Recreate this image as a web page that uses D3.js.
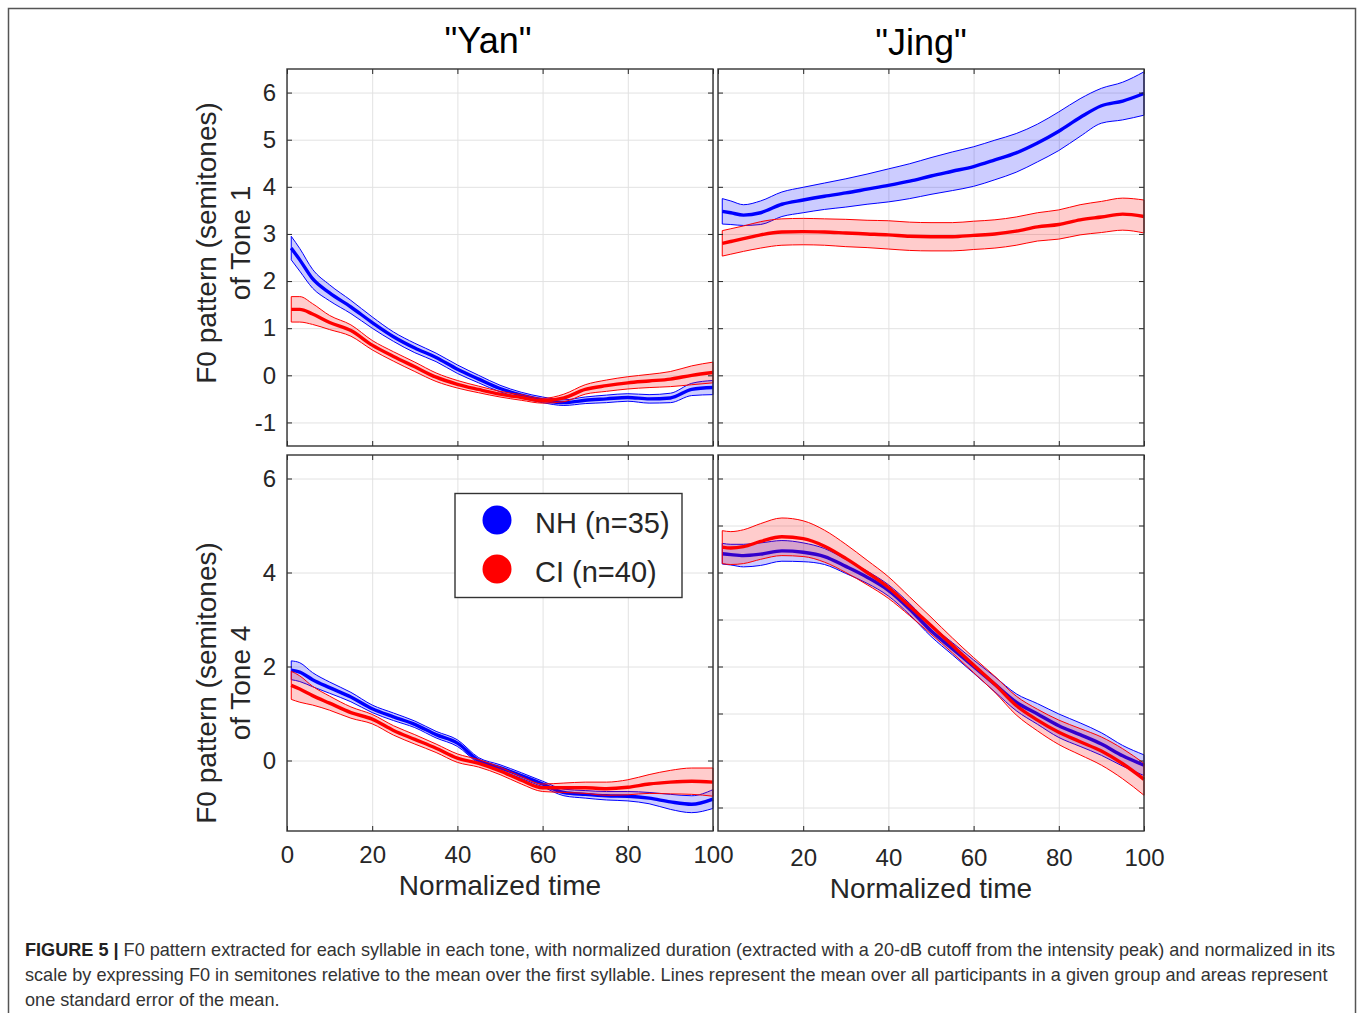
<!DOCTYPE html>
<html>
<head>
<meta charset="utf-8">
<title>Figure 5 - F0 pattern</title>
<script src="https://cdnjs.cloudflare.com/ajax/libs/d3/7.8.5/d3.min.js"></script>
<style>
    body { margin: 0; background: #fff; }
    svg text { font-family: "Liberation Sans", Arial, Helvetica, sans-serif; }
</style>
</head>
<body>
<svg id="figure" width="1357" height="1013"></svg>
<script>
// normalized time samples (same for every curve)
const time = [1, 3, 6, 10, 15, 20, 25, 30, 35, 40, 45, 50, 55, 60, 65, 70, 75, 80, 85, 90, 95, 100];

// "Yan", tone 1
const yanT1NH   = [2.7, 2.45, 2.05, 1.75, 1.45, 1.12, 0.82, 0.58, 0.38, 0.13, -0.08, -0.28, -0.42, -0.52, -0.58, -0.53, -0.5, -0.47, -0.5, -0.48, -0.3, -0.26];
const yanT1NHse = [0.25, 0.24, 0.2, 0.17, 0.14, 0.12, 0.1, 0.1, 0.09, 0.09, 0.08, 0.07, 0.06, 0.06, 0.06, 0.07, 0.08, 0.08, 0.09, 0.1, 0.13, 0.15];
const yanT1CI   = [1.4, 1.4, 1.3, 1.12, 0.95, 0.64, 0.4, 0.18, -0.04, -0.19, -0.3, -0.4, -0.47, -0.54, -0.48, -0.3, -0.22, -0.16, -0.12, -0.08, 0.0, 0.06];
const yanT1CIse = [0.27, 0.27, 0.22, 0.15, 0.12, 0.1, 0.1, 0.1, 0.09, 0.08, 0.07, 0.06, 0.06, 0.05, 0.08, 0.1, 0.12, 0.13, 0.14, 0.16, 0.2, 0.22];

// "Jing", tone 1
const jingT1NH   = [3.48, 3.45, 3.4, 3.45, 3.63, 3.72, 3.8, 3.87, 3.95, 4.03, 4.12, 4.23, 4.33, 4.43, 4.57, 4.72, 4.93, 5.18, 5.47, 5.72, 5.82, 5.98];
const jingT1NHse = [0.27, 0.25, 0.22, 0.25, 0.26, 0.27, 0.28, 0.3, 0.32, 0.35, 0.37, 0.39, 0.41, 0.42, 0.42, 0.41, 0.4, 0.41, 0.4, 0.37, 0.4, 0.46];
const jingT1CI   = [2.8, 2.84, 2.9, 2.98, 3.04, 3.05, 3.04, 3.02, 3.0, 2.98, 2.95, 2.94, 2.94, 2.97, 3.0, 3.06, 3.15, 3.2, 3.3, 3.36, 3.42, 3.37];
const jingT1CIse = [0.27, 0.27, 0.27, 0.28, 0.28, 0.28, 0.28, 0.29, 0.29, 0.3, 0.3, 0.3, 0.3, 0.3, 0.3, 0.3, 0.3, 0.31, 0.32, 0.33, 0.34, 0.35];

// "Yan", tone 4
const yanT4NH   = [1.92, 1.88, 1.72, 1.55, 1.35, 1.1, 0.93, 0.77, 0.55, 0.37, 0.0, -0.15, -0.32, -0.5, -0.68, -0.72, -0.75, -0.76, -0.8, -0.88, -0.93, -0.82];
const yanT4NHse = [0.2, 0.2, 0.15, 0.12, 0.1, 0.08, 0.08, 0.07, 0.07, 0.07, 0.06, 0.06, 0.06, 0.06, 0.07, 0.08, 0.09, 0.1, 0.12, 0.16, 0.18, 0.2];
const yanT4CI   = [1.6, 1.52, 1.38, 1.22, 1.02, 0.88, 0.64, 0.45, 0.26, 0.05, -0.06, -0.22, -0.42, -0.58, -0.58, -0.58, -0.6, -0.57, -0.5, -0.46, -0.44, -0.46];
const yanT4CIse = [0.3, 0.28, 0.2, 0.15, 0.12, 0.1, 0.1, 0.1, 0.09, 0.09, 0.08, 0.08, 0.08, 0.08, 0.1, 0.12, 0.14, 0.16, 0.2, 0.25, 0.28, 0.3];

// "Jing", tone 4
const jingT4NH   = [4.4, 4.38, 4.36, 4.39, 4.46, 4.43, 4.34, 4.13, 3.9, 3.62, 3.22, 2.76, 2.38, 2.0, 1.62, 1.24, 0.99, 0.74, 0.55, 0.35, 0.1, -0.1];
const jingT4NHse = [0.22, 0.22, 0.24, 0.24, 0.22, 0.2, 0.17, 0.15, 0.13, 0.12, 0.12, 0.12, 0.13, 0.14, 0.16, 0.18, 0.22, 0.25, 0.25, 0.24, 0.22, 0.22];
const jingT4CI   = [4.54, 4.52, 4.55, 4.66, 4.76, 4.72, 4.56, 4.3, 4.0, 3.68, 3.28, 2.87, 2.45, 2.03, 1.62, 1.17, 0.86, 0.6, 0.4, 0.2, -0.07, -0.4];
const jingT4CIse = [0.35, 0.35, 0.36, 0.38, 0.4, 0.38, 0.34, 0.3, 0.26, 0.23, 0.2, 0.18, 0.16, 0.16, 0.17, 0.2, 0.23, 0.26, 0.28, 0.3, 0.32, 0.34];

// axes
const xTicks = [0, 20, 40, 60, 80, 100];
const yTicksAll = [-1, 0, 1, 2, 3, 4, 5, 6];
const yTicksEven = [0, 2, 4, 6];
const yDomain = [-1.5, 6.5];

const groups = ["NH (n=35)", "CI (n=40)"];
const groupColors = ["#0000ff", "#ff0000"];
const syllables = ["\"Yan\"", "\"Jing\""];

const captionLines = [
    " F0 pattern extracted for each syllable in each tone, with normalized duration (extracted with a 20-dB cutoff from the intensity peak) and normalized in its",
    "scale by expressing F0 in semitones relative to the mean over the first syllable. Lines represent the mean over all participants in a given group and areas represent",
    "one standard error of the mean."
];

const svg = d3.select("#figure");
const axisColor = "#262626";
const gridColor = "#e2e2e2";

// outer figure frame
svg.append("rect")
    .attr("x", 8.5).attr("y", 8.5)
    .attr("width", 1347).attr("height", 1030)
    .attr("fill", "none")
    .attr("stroke", "#555")
    .attr("stroke-width", 1.5);

const toRows = (mean, se) => time.map((t, i) => ({ t: t, m: mean[i], s: se[i] }));
const plainNum = (d) => String(d);   // keep "-1" with a hyphen like the original

const drawPanel = (p) => {
    let x = d3.scaleLinear().domain([0, 100]).range([p.left, p.left + p.w]);
    let y = d3.scaleLinear().domain(yDomain).range([p.top + p.h, p.top]);
    let g = svg.append("g");

    // grid
    g.append("g")
        .attr("class", "grid")
        .attr("transform", "translate(" + p.left + ",0)")
        .call(d3.axisLeft(y).tickValues(p.yTicks).tickSize(-p.w).tickFormat(""));
    g.append("g")
        .attr("class", "grid")
        .attr("transform", "translate(0," + (p.top + p.h) + ")")
        .call(d3.axisBottom(x).tickValues(xTicks).tickSize(-p.h).tickFormat(""));
    g.selectAll(".grid .domain").remove();
    g.selectAll(".grid line").attr("stroke", gridColor);

    // curves: band (with thin edges) then mean line
    p.series.forEach((s) => {
        let rows = toRows(s.mean, s.se);
        let area = d3.area()
            .x(d => x(d.t))
            .y0(d => y(d.m - d.s))
            .y1(d => y(d.m + d.s))
            .curve(d3.curveMonotoneX);
        let meanLine = d3.line()
            .x(d => x(d.t))
            .y(d => y(d.m))
            .curve(d3.curveMonotoneX);

        g.append("path").datum(rows)
            .attr("d", area)
            .attr("fill", s.color)
            .attr("fill-opacity", 0.2)
            .attr("stroke", s.color)
            .attr("stroke-width", 1);
        g.append("path").datum(rows)
            .attr("d", meanLine)
            .attr("fill", "none")
            .attr("stroke", s.color)
            .attr("stroke-width", 3.4)
            .attr("stroke-linejoin", "round");
    });

    // inner ticks on all four sides
    let left = g.append("g")
        .attr("class", "ticks")
        .attr("transform", "translate(" + p.left + ",0)")
        .call(d3.axisLeft(y).tickValues(p.yTicks).tickSize(-5).tickPadding(11)
            .tickFormat(p.yLabels ? plainNum : ""));
    g.append("g")
        .attr("class", "ticks")
        .attr("transform", "translate(" + (p.left + p.w) + ",0)")
        .call(d3.axisRight(y).tickValues(p.yTicks).tickSize(-5).tickFormat(""));
    g.append("g")
        .attr("class", "ticks")
        .attr("transform", "translate(0," + p.top + ")")
        .call(d3.axisTop(x).tickValues(xTicks).tickSize(-5).tickFormat(""));
    let bottom = g.append("g")
        .attr("class", "ticks")
        .attr("transform", "translate(0," + (p.top + p.h) + ")")
        .call(d3.axisBottom(x).tickValues(p.xLabelTicks || xTicks).tickSize(-5).tickPadding(p.xPad || 15)
            .tickFormat(p.xLabelTicks ? plainNum : ""));

    g.selectAll(".ticks .domain").remove();
    g.selectAll(".ticks line").attr("stroke", axisColor);
    [left, bottom].forEach((a) => {
        a.selectAll("text")
            .style("font-size", "24px")
            .attr("fill", axisColor);
    });

    // axes box
    g.append("rect")
        .attr("x", p.left).attr("y", p.top)
        .attr("width", p.w).attr("height", p.h)
        .attr("fill", "none")
        .attr("stroke", "#333")
        .attr("stroke-width", 1.4);

    if (p.xTitleY) {
        g.append("text")
            .attr("x", p.left + p.w / 2)
            .attr("y", p.xTitleY)
            .attr("text-anchor", "middle")
            .style("font-size", "28px")
            .attr("fill", axisColor)
            .text("Normalized time");
    }
    if (p.yTitle) {
        let t = g.append("text")
            .attr("transform", "translate(0," + p.yTitleCenter + ") rotate(-90)")
            .attr("text-anchor", "middle")
            .style("font-size", "28px")
            .attr("fill", axisColor);
        t.append("tspan").attr("x", 0).attr("y", 216).text("F0 pattern (semitones)");
        t.append("tspan").attr("x", 0).attr("y", 250).text(p.yTitle);
    }
};

const panelW = 426, panelH = 377;
const leftX = 287, rightX = 718, topY = 69, bottomY = 455;

drawPanel({
    left: leftX, top: topY, w: panelW, h: panelH, yTicks: yTicksAll, yLabels: true,
    yTitle: "of Tone 1", yTitleCenter: 243,
    series: [
        { mean: yanT1NH, se: yanT1NHse, color: groupColors[0] },
        { mean: yanT1CI, se: yanT1CIse, color: groupColors[1] }
    ]
});
drawPanel({
    left: rightX, top: topY, w: panelW, h: panelH, yTicks: yTicksAll, yLabels: false,
    series: [
        { mean: jingT1NH, se: jingT1NHse, color: groupColors[0] },
        { mean: jingT1CI, se: jingT1CIse, color: groupColors[1] }
    ]
});
drawPanel({
    left: leftX, top: bottomY, w: panelW, h: panelH - 1, yTicks: yTicksEven, yLabels: true,
    xLabelTicks: xTicks, xPad: 15, xTitleY: 895,
    yTitle: "of Tone 4", yTitleCenter: 683,
    series: [
        { mean: yanT4NH, se: yanT4NHse, color: groupColors[0] },
        { mean: yanT4CI, se: yanT4CIse, color: groupColors[1] }
    ]
});
drawPanel({
    left: rightX, top: bottomY, w: panelW, h: panelH - 1, yTicks: yTicksAll, yLabels: false,
    xLabelTicks: xTicks.slice(1), xPad: 18, xTitleY: 898,
    series: [
        { mean: jingT4NH, se: jingT4NHse, color: groupColors[0] },
        { mean: jingT4CI, se: jingT4CIse, color: groupColors[1] }
    ]
});

// syllable titles
svg.selectAll(".syllable")
    .data(syllables)
    .enter()
    .append("text")
    .attr("class", "syllable")
    .attr("x", (d, i) => i === 0 ? leftX + panelW / 2 - 12 : rightX + panelW / 2 - 10)
    .attr("y", (d, i) => i === 0 ? 53 : 55)
    .attr("text-anchor", "middle")
    .style("font-size", "36px")
    .attr("fill", "#000")
    .text(d => d);

// legend
let legend = svg.append("g").attr("id", "legend");
legend.append("rect")
    .attr("x", 455).attr("y", 493.5)
    .attr("width", 227).attr("height", 104)
    .attr("fill", "#fff")
    .attr("stroke", "#333")
    .attr("stroke-width", 1.4);
let items = legend.selectAll(".legend-item")
    .data(groups)
    .enter()
    .append("g")
    .attr("class", "legend-item")
    .attr("transform", (d, i) => "translate(497," + (520 + i * 49) + ")");
items.append("circle")
    .attr("r", 14.5)
    .attr("fill", (d, i) => groupColors[i]);
items.append("text")
    .attr("x", 38)
    .attr("y", 13)
    .style("font-size", "29px")
    .attr("fill", axisColor)
    .text(d => d);

// caption
let caption = svg.append("text")
    .style("font-size", "18.1px")
    .attr("fill", "#333");
captionLines.forEach((line, i) => {
    let ts = caption.append("tspan")
        .attr("x", 25)
        .attr("y", 956 + i * 25);
    if (i === 0) {
        ts.append("tspan")
            .attr("font-weight", "bold")
            .attr("fill", "#222")
            .text("FIGURE 5 |");
        ts.append("tspan").text(line);
    } else {
        ts.text(line);
    }
});
</script>
</body>
</html>
